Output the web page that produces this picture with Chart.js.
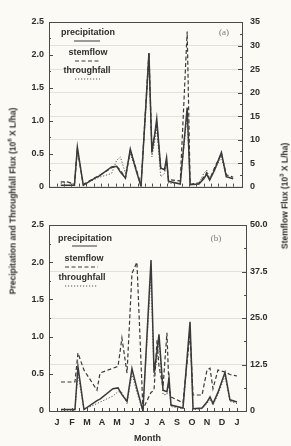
<!DOCTYPE html>
<html>
<head>
<meta charset="utf-8">
<script src="https://cdn.jsdelivr.net/npm/chart.js@4.4.0/dist/chart.umd.min.js"></script>
<style>
    body { margin: 0; background: #fbfaf4; }
    #wrap { position: relative; width: 291px; height: 446px; overflow: hidden; font-family: "Liberation Sans", Arial, sans-serif; color: #2e2e2e; }
    canvas { position: absolute; left: 0; }
    .axtitle { position: absolute; font-weight: bold; font-size: 8.5px; white-space: nowrap; transform: translate(-50%, -50%) rotate(-90deg); }
    .axtitle sup { font-size: 6px; }
</style>
</head>
<body>
<div id="wrap">
    <canvas id="chartA" width="291" height="200" style="top:0"></canvas>
    <canvas id="chartB" width="291" height="246" style="top:200px"></canvas>
    <div class="axtitle" style="left:12px; top:201px">Precipitation and Throughfall Flux (10<sup>6</sup> X L/ha)</div>
    <div class="axtitle" style="left:284px; top:196px">Stemflow Flux (10<sup>3</sup> X L/ha)</div>
</div>

<script>
    // month letters under the x axis (Jan .. Jan)
    var monthLetters = ['J', 'F', 'M', 'A', 'M', 'J', 'J', 'A', 'S', 'O', 'N', 'D', 'J'];

    // sampling dates, in months from January
    var sampleMonth = [0.27, 0.73, 1.2, 1.4, 1.8, 2.67, 2.87, 3.73, 4.07, 4.33, 4.67, 5.0, 5.33, 5.73, 6.27, 6.47, 6.67,
        6.8, 7.07, 7.33, 7.47, 7.6, 8.4, 8.87, 9.07, 9.67, 10.0, 10.2, 10.4, 10.73, 11.2, 11.53, 12.0];

    // precipitation (10^6 L/ha), same in both panels
    var precip = [0.02, 0.02, 0.02, 0.6, 0.02, 0.14, 0.16, 0.3, 0.31, 0.22, 0.13, 0.57, 0.3, 0.0, 2.03, 0.52, 0.8,
        1.03, 0.28, 0.26, 0.44, 0.08, 0.04, 1.2, 0.03, 0.04, 0.12, 0.19, 0.1, 0.25, 0.52, 0.15, 0.12];

    // panel (a)
    var stemflowA = [1, 1, 0.5, 8, 0.5, 2, 2.3, 4, 4.3, 3.5, 1.8, 7.8, 4.5, 0.3, 28.5, 8, 11,
        13.5, 4, 3.5, 5.5, 1.5, 1.2, 33, 0.5, 0.8, 2, 3, 1.5, 4, 7, 2.5, 2];
    var throughfallA = [0.05, 0.07, 0.03, 0.55, 0.03, 0.12, 0.14, 0.2, 0.4, 0.45, 0.2, 0.5, 0.28, 0.02, 1.9, 0.45, 0.7,
        0.9, 0.15, 0.2, 0.35, 0.05, 0.05, 1.1, 0.03, 0.05, 0.2, 0.25, 0.12, 0.25, 0.45, 0.15, 0.12];

    // panel (b)
    var stemflowB = [7.8, 7.8, 7.8, 15.6, 11, 5.6, 10.2, 11.5, 12, 19.6, 10.2, 37, 40, 0.5, 5, 5.6, 19,
        12, 6.5, 21, 6, 3.8, 2.2, 21, 4.3, 4.3, 11, 11.5, 6, 11, 10.5, 9.8, 9.4];
    var throughfallB = [0.01, 0.01, 0.01, 0.5, 0.02, 0.1, 0.12, 0.2, 0.26, 0.25, 0.1, 0.5, 0.25, 0.0, 1.85, 0.45, 0.7,
        0.95, 0.22, 0.22, 0.38, 0.06, 0.03, 1.1, 0.02, 0.03, 0.1, 0.16, 0.08, 0.22, 0.47, 0.13, 0.1];

    var ink = '#2e2e2e';
    var lineInk = '#3a3a3a';
    var tickFont = { family: '"Liberation Sans", Arial, sans-serif', size: 9, weight: 'bold' };

    function pts(ys) {
        return sampleMonth.map(function(m, i) { return { x: m, y: ys[i] }; });
    }

    function datasets(stem, thru) {
        return [
            { label: 'precipitation', data: pts(precip), yAxisID: 'yL', borderColor: lineInk, borderWidth: 1.5, pointRadius: 0, tension: 0 },
            { label: 'stemflow', data: pts(stem), yAxisID: 'yR', borderColor: lineInk, borderWidth: 1.2, borderDash: [4, 2.5], pointRadius: 0, tension: 0 },
            { label: 'throughfall', data: pts(thru), yAxisID: 'yL', borderColor: '#555', borderWidth: 1, borderDash: [1.2, 1.8], pointRadius: 0, tension: 0 }
        ];
    }

    // box around plot + small inward tick marks
    var frame = {
        id: 'frame',
        afterDraw: function(chart, args, o) {
            var ctx = chart.ctx, a = chart.chartArea, s = chart.scales;
            ctx.save();
            ctx.strokeStyle = '#4a4a4a';
            ctx.lineWidth = 1;
            ctx.setLineDash([]);
            ctx.strokeRect(Math.round(a.left) + 0.5, Math.round(a.top) + 0.5, Math.round(a.right - a.left), Math.round(a.bottom - a.top));
            ctx.beginPath();
            var v, y, x, len;
            for (v = 0; v <= s.yL.max + 1e-9; v += o.leftStep) {
                y = Math.round(s.yL.getPixelForValue(v)) + 0.5;
                len = Math.abs(v / (o.leftStep * 2) - Math.round(v / (o.leftStep * 2))) < 1e-6 ? 4 : 2;
                ctx.moveTo(a.left, y); ctx.lineTo(a.left + len, y);
            }
            for (v = 0; v <= s.yR.max + 1e-9; v += o.rightStep) {
                y = Math.round(s.yR.getPixelForValue(v)) + 0.5;
                len = Math.abs(v / (o.rightStep * 2) - Math.round(v / (o.rightStep * 2))) < 1e-6 ? 4 : 2;
                ctx.moveTo(a.right, y); ctx.lineTo(a.right - len, y);
            }
            for (v = 0; v <= 12; v += 0.5) {
                x = Math.round(s.x.getPixelForValue(v)) + 0.5;
                ctx.moveTo(x, a.bottom); ctx.lineTo(x, a.bottom - 3);
            }
            ctx.stroke();
            ctx.restore();
        }
    };

    // legend drawn as text with a line sample underneath
    var sampleLegend = {
        id: 'sampleLegend',
        afterDatasetsDraw: function(chart, args, o) {
            var ctx = chart.ctx;
            ctx.save();
            ctx.textAlign = 'center';
            ctx.textBaseline = 'middle';
            o.items.forEach(function(it, i) {
                var ds = chart.data.datasets[i];
                ctx.font = 'bold 9px "Liberation Sans", Arial, sans-serif';
                ctx.fillStyle = ink;
                ctx.fillText(ds.label, it.tx, it.ty);
                ctx.beginPath();
                ctx.setLineDash(ds.borderDash || []);
                ctx.lineWidth = 1;
                ctx.strokeStyle = ds.borderColor;
                ctx.moveTo(it.x0, it.ly);
                ctx.lineTo(it.x1, it.ly);
                ctx.stroke();
            });
            ctx.setLineDash([]);
            ctx.font = '9px "Liberation Serif", "DejaVu Serif", serif';
            ctx.fillStyle = '#777';
            ctx.fillText(o.panel, o.px, o.py);
            ctx.restore();
        }
    };

    function makeChart(id, stem, thru, cfg) {
        return new Chart(document.getElementById(id), {
            type: 'line',
            data: { datasets: datasets(stem, thru) },
            plugins: [frame, sampleLegend],
            options: {
                responsive: false,
                animation: false,
                devicePixelRatio: 1,
                layout: { padding: { top: cfg.padTop, left: 0, right: 0, bottom: 0 } },
                plugins: {
                    legend: { display: false },
                    tooltip: { enabled: false },
                    frame: { leftStep: 0.25, rightStep: cfg.rightMinor },
                    sampleLegend: cfg.legend
                },
                scales: {
                    x: {
                        type: 'linear', min: -0.53, max: 12.6,
                        afterFit: function(s) { s.height = cfg.xHeight; },
                        grid: { display: false, drawTicks: false },
                        border: { display: false },
                        ticks: {
                            display: cfg.showMonths, stepSize: 1, includeBounds: false, autoSkip: false, maxRotation: 0,
                            padding: 6, color: ink, font: tickFont,
                            callback: function(v) { return Number.isInteger(v) ? monthLetters[v] : ''; }
                        },
                        title: { display: cfg.showMonths, text: 'Month', color: ink, font: tickFont, padding: { top: 0, bottom: 2 } }
                    },
                    yL: {
                        position: 'left', min: 0, max: 2.5,
                        afterFit: function(s) { s.width = 49; },
                        grid: { display: false, drawTicks: false },
                        border: { display: false },
                        ticks: {
                            stepSize: 0.5, padding: 5, color: ink, font: tickFont,
                            callback: function(v) { return v === 0 ? '0' : v.toFixed(1); }
                        }
                    },
                    yR: {
                        position: 'right', min: 0, max: cfg.rightMax,
                        afterFit: function(s) { s.width = cfg.rightWidth; },
                        grid: { color: '#e2e1dc', drawTicks: false },
                        border: { display: false },
                        ticks: {
                            stepSize: cfg.rightStep, padding: cfg.rightPad, color: ink, font: tickFont,
                            callback: cfg.rightLabel
                        }
                    }
                }
            }
        });
    }

    makeChart('chartA', stemflowA, throughfallA, {
        padTop: 22, xHeight: 12, showMonths: false,
        rightMax: 35, rightStep: 5, rightMinor: 2.5, rightWidth: 49, rightPad: 8,
        rightLabel: function(v) { return String(v); },
        legend: {
            items: [
                { tx: 88, ty: 33, x0: 74, x1: 100, ly: 41 },
                { tx: 88, ty: 53, x0: 75, x1: 100, ly: 61 },
                { tx: 87, ty: 71, x0: 75, x1: 100, ly: 79 }
            ],
            panel: '(a)', px: 224, py: 33
        }
    });

    makeChart('chartB', stemflowB, throughfallB, {
        padTop: 25, xHeight: 35, showMonths: true,
        rightMax: 50, rightStep: 12.5, rightMinor: 6.25, rightWidth: 45, rightPad: 4,
        rightLabel: function(v) { return v === 0 ? '0' : v.toFixed(1); },
        legend: {
            items: [
                { tx: 85, ty: 39, x0: 72, x1: 97, ly: 46 },
                { tx: 84, ty: 59, x0: 65, x1: 98, ly: 67 },
                { tx: 82, ty: 78, x0: 65, x1: 97, ly: 86 }
            ],
            panel: '(b)', px: 216, py: 39
        }
    });
</script>
</body>
</html>
